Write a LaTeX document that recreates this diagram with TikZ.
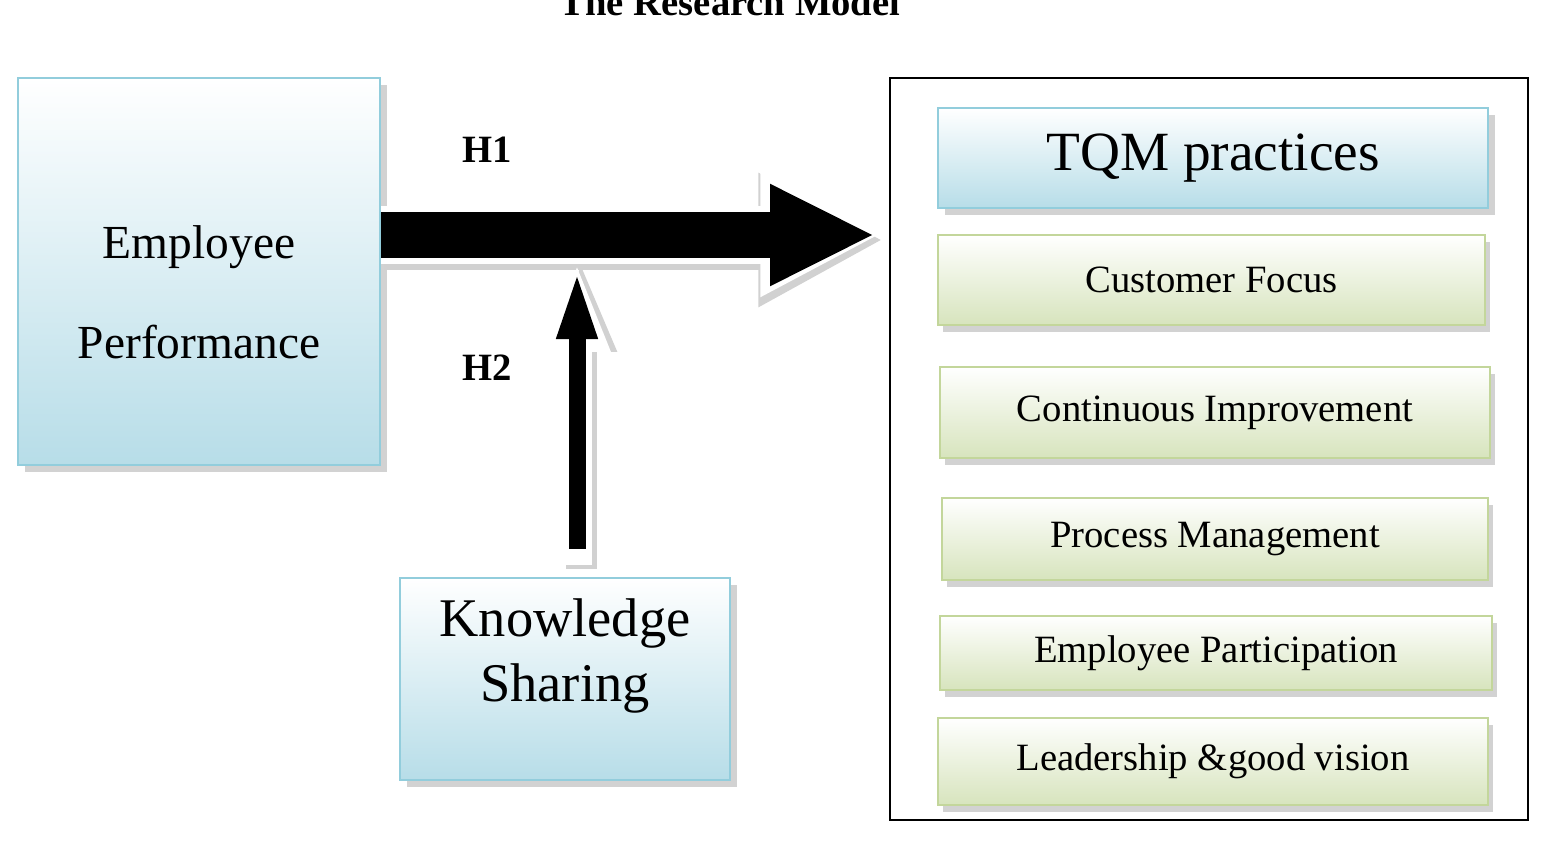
\documentclass[tikz,border=0pt]{standalone}
\usepackage{fontspec}
\setmainfont{Liberation Serif}
\usetikzlibrary{shadows,arrows.meta,positioning,calc}
\definecolor{blueB}{RGB}{183,221,232}
\definecolor{blueL}{RGB}{146,205,220}
\definecolor{greenB}{RGB}{215,228,189}
\definecolor{greenL}{RGB}{195,214,155}

\begin{document}
\begin{tikzpicture}
[x=0.02cm,y=-0.02cm,
    bluebox/.style={draw=blueL,line width=1.5pt,top color=white,bottom color=blueB,
    drop shadow={shadow xshift=4pt,shadow yshift=-4pt,fill=black!35},inner sep=0pt},
    greenbox/.style={draw=greenL,line width=1.5pt,top color=white,bottom color=greenB,
    drop shadow={shadow xshift=3pt,shadow yshift=-4pt,fill=black!35},inner sep=0pt,
    font=\fontsize{22}{26}\selectfont},
    hyp/.style={font=\fontsize{22}{26}\selectfont\bfseries},
    fatarrow/.style={line width=#1}]
\useasboundingbox (0,0) rectangle (1556,846);
%% title
\node (title) at (730,2) {\fontsize{22}{26}\selectfont\bfseries The Research Model};
%% left boxes
\node (ep) [bluebox,minimum width=7.24cm,minimum height=7.74cm,align=center,
  font=\fontsize{27}{57}\selectfont] at (199,271.5) {\\[-15pt]Employee\\Performance};
\node (ks) [bluebox,minimum width=6.6cm,minimum height=4.04cm,align=center,
  font=\fontsize{31}{40}\selectfont] at (565,679) {Knowledge\\[-3pt]Sharing\\[-7pt]};
%% right frame
\node (frame) [draw,line width=1pt,minimum width=12.76cm,minimum height=14.84cm,inner sep=0pt] at (1209,449) {};
\node (tqm) [bluebox,minimum width=11cm,minimum height=2cm,
  font=\fontsize{31.5}{34}\selectfont] at (1213,158) {TQM practices};
\node (cf) [greenbox,minimum width=10.94cm,minimum height=1.8cm] at (1211.5,280) {Customer Focus};
\node (ci) [greenbox,minimum width=11cm,minimum height=1.82cm] at (1215,412.5) {Continuous Improvement};
\node (pm) [greenbox,minimum width=10.92cm,minimum height=1.64cm] at (1215,539) {Process Management};
\node (epa) [greenbox,minimum width=11.04cm,minimum height=1.48cm] at (1216,653) {Employee Participation};
\node (ld) [greenbox,minimum width=11cm,minimum height=1.74cm] at (1213,761.5) {Leadership \&good vision};
%% hypotheses
\node (h1) [hyp] at (487,150) {H1};
\node (h2) [hyp] at (487,368) {H2};
%% main arrow (shadow, outline, body)
\coordinate (tip) at (875,235);
\draw[black!18,fatarrow=1.2cm,-{Triangle[length=2.5cm,width=2.5cm]},shorten >=-3pt]
  ([shift={(3,5)}]ep.east|-tip) -- ([shift={(3,5)}]tip);
\draw[white,fatarrow=1.16cm,-{Triangle[length=2.4cm,width=2.3cm]},shorten >=-3pt]
  (ep.east|-tip) -- (tip);
\draw[black,fatarrow=0.92cm,-{Triangle[length=2.1cm,width=1.88cm]}]
  (ep.east|-tip) -- (tip);
%% moderating arrow
\coordinate (utip) at (577,262);
\draw[black!18,fatarrow=0.62cm,-{Triangle[length=1.8cm,width=1.3cm]}]
  ([shift={(4,0)}]ks.north-|utip) ++(0,-8) -- ([shift={(4,0)}]utip);
\draw[white,fatarrow=0.58cm,-{Triangle[length=1.8cm,width=1.2cm]}]
  (ks.north-|utip) ++(0,-12) -- (utip);
\draw[black,fatarrow=0.34cm,-{Triangle[length=1.4cm,width=0.72cm]}]
  (ks.north-|utip) ++(0,-28) -- ([yshift=-4pt]utip);
\end{tikzpicture}
\end{document}
